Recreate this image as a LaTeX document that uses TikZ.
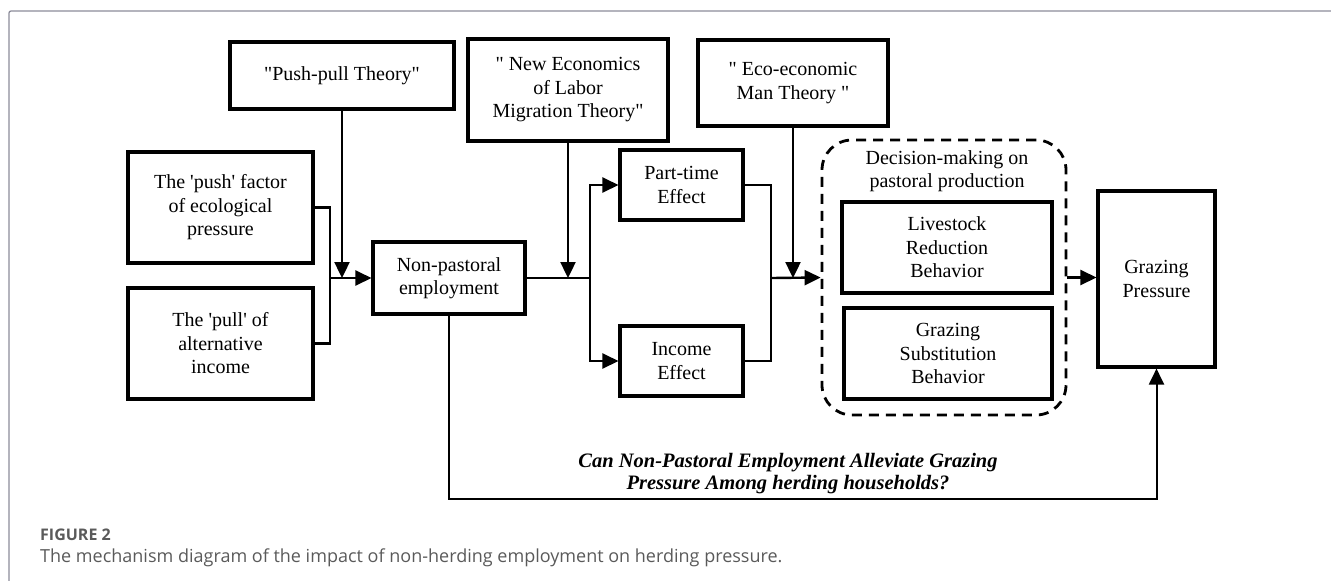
\documentclass[tikz,border=0pt]{standalone}
\usepackage{fontspec}
\setmainfont{Liberation Serif}
\newfontfamily\capfont{Open Sans}
\usetikzlibrary{arrows.meta}
\definecolor{framegray}{HTML}{8C8C9A}
\definecolor{capgray}{HTML}{5A5A5A}
\tikzset{
  box/.style={draw, line width=3.1pt, align=center, inner sep=0pt, font=\fontsize{20}{23.5}\selectfont},
  conn/.style={line width=2.4pt, -{Triangle[length=16pt,width=15pt]}},
  plain/.style={line width=2.4pt},
}
\begin{document}
\begin{tikzpicture}[x=1pt,y=-1pt]
\useasboundingbox (0,0) rectangle (1331,581);
\draw[framegray, line width=1.3pt, rounded corners=2pt] (9,581) -- (9,11) -- (1331,11);

\node[box, minimum width=224pt, minimum height=67pt] (pp) at (342,75.5) {\textquotedbl Push-pull Theory\textquotedbl};
\node[box, minimum width=185pt, minimum height=111pt] (push) at (220.5,207.5) {The \textquotesingle push\textquotesingle{} factor\\of ecological\\pressure};
\node[box, minimum width=185pt, minimum height=111pt] (pull) at (220.5,343.5) {The \textquotesingle pull\textquotesingle{} of\\alternative\\income};
\node[box, minimum width=152pt, minimum height=72pt] (np) at (449,278) {Non-pastoral\\employment};
\node[box, minimum width=200pt, minimum height=102pt] (ne) at (568,90) {\textquotedbl{} New Economics\\of Labor\\Migration Theory\textquotedbl};
\node[box, minimum width=123pt, minimum height=70pt] (pt) at (681.5,185) {Part-time\\Effect};
\node[box, minimum width=123pt, minimum height=70pt] (ie) at (681.5,361) {Income\\Effect};
\node[box, minimum width=190pt, minimum height=86pt] (eco) at (793,83) {\textquotedbl{} Eco-economic\\Man Theory \textquotedbl};
\node[draw, line width=2.8pt, dash pattern=on 10pt off 7pt, rounded corners=30pt, minimum width=244pt, minimum height=275pt, inner sep=0pt] (dec) at (944,277.5) {};
\node[align=center, inner sep=0pt, font=\fontsize{20}{23.5}\selectfont] (dectitle) at (947,171) {Decision-making on\\pastoral production};
\node[box, minimum width=210pt, minimum height=91pt] (lr) at (947,247.5) {Livestock\\Reduction\\Behavior};
\node[box, minimum width=208pt, minimum height=91pt] (gs) at (948,353.5) {Grazing\\Substitution\\Behavior};
\node[box, minimum width=117pt, minimum height=176pt] (gp) at (1156.5,279) {Grazing\\Pressure};

\coordinate (j1) at (330,278);
\coordinate (j2) at (590,278);
\coordinate (j3) at (771,278);
\coordinate (bl) at (449,499);
\coordinate (br) at (1156.5,499);

\draw[plain] (push.east) -| (j1);
\draw[plain] (pull.east) -| (j1);
\draw[conn] (j1) -- (np.west);
\draw[conn] (pp.south) -- (pp.south |- np.west);

\draw[plain] (np.east) -- (j2);
\draw[conn] (ne.south) -- (ne.south |- j2);
\draw[conn] (j2) |- (pt.west);
\draw[conn] (j2) |- (ie.west);

\draw[plain] (pt.east) -| (j3);
\draw[plain] (ie.east) -| (j3);
\draw[conn] (j3) -- (dec.west);
\draw[conn] (eco.south) -- (eco.south |- j3);

\draw[conn] (dec.east) -- (dec.east -| gp.west);

\draw[conn, line width=2pt] (np.south) -- (bl) -- (br) -- (gp.south);

\node[align=center, inner sep=0pt, font=\fontsize{20.5}{22}\selectfont\bfseries\itshape] (q) at (788,474) {Can Non-Pastoral Employment Alleviate Grazing\\Pressure Among herding households?};

\node[anchor=west, inner sep=0pt, text=capgray, font=\capfont\fontsize{16}{18}\selectfont\bfseries] (figlab) at (40,535) {FIGURE 2};
\node[anchor=west, inner sep=0pt, text=capgray, font=\capfont\fontsize{18}{21}\selectfont] (cap) at (40,558) {The mechanism diagram of the impact of non-herding employment on herding pressure.};
\end{tikzpicture}
\end{document}
